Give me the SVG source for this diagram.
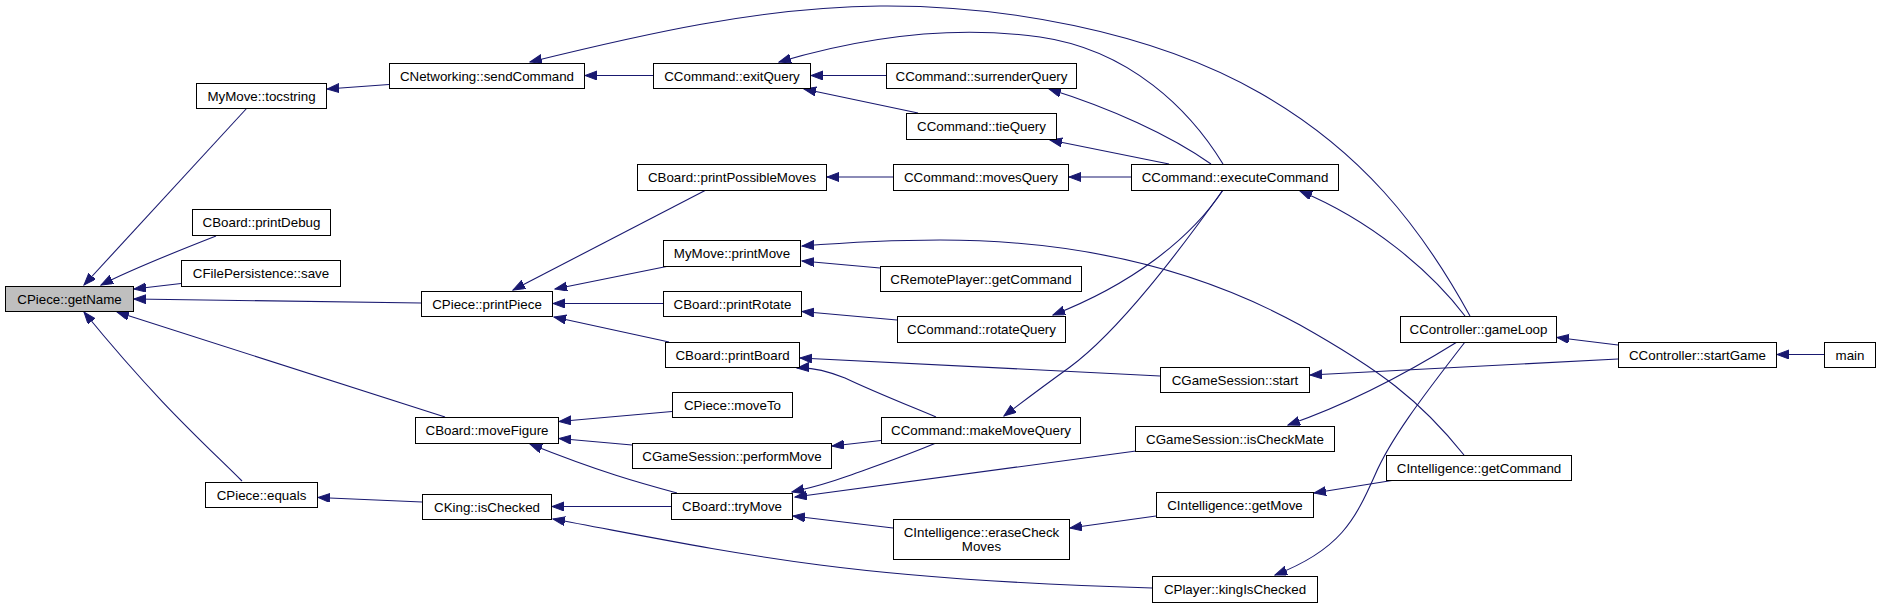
<svg xmlns="http://www.w3.org/2000/svg" width="1880" height="608" viewBox="0 0 1880 608">
<style>
.n rect{fill:#ffffff;stroke:#000000;stroke-width:1}
.n.cur rect{fill:#bfbfbf}
.n text{font-family:"Liberation Sans",Arial,sans-serif;font-size:13.33px;text-anchor:middle;fill:#000000}
.e path{fill:none;stroke:#191970;stroke-width:1.1;marker-end:url(#ah)}
</style>
<defs>
<marker id="ah" markerUnits="userSpaceOnUse" markerWidth="13" markerHeight="10" refX="12" refY="4.5" orient="auto">
<path d="M0,0 L12,4.5 L0,9 z" fill="#191970" stroke="#191970" stroke-width="1"/>
</marker>
</defs>
<rect width="1880" height="608" fill="#ffffff"/>
<g id="connectors" class="e">
<path d="M247,108 L84,285"/>
<path d="M216,236 C170,254 130,270 101,285"/>
<path d="M181,283.5 L134,289"/>
<path d="M421,303 L134,299"/>
<path d="M445,417 L117,312"/>
<path d="M242,481 C205,444 160,405 84,312"/>
<path d="M389,84.5 L327,89"/>
<path d="M1470,316 C1420,225 1360,150 1260,93 C1150,30 1000,5 880,6 C760,7 640,35 530,62"/>
<path d="M653,75.5 L585,75.5"/>
<path d="M886,75.5 L811,75.5"/>
<path d="M918,113 L804,89"/>
<path d="M1223,164 C1190,110 1130,50 1040,37 C960,26 870,35 779,62"/>
<path d="M1211,164 C1170,135 1110,108 1049,89"/>
<path d="M1169,164 L1050,140"/>
<path d="M893,177 L827,177"/>
<path d="M1131,177 L1069,177"/>
<path d="M1465,316 C1430,270 1370,220 1300,191"/>
<path d="M706,190 L513,290"/>
<path d="M669,266 L555,289"/>
<path d="M663,303.5 L553,303.5"/>
<path d="M669,342 L554,317"/>
<path d="M1464,455 C1420,400 1380,370 1300,325 C1200,270 1080,240 940,240 C880,240 840,243 802,246"/>
<path d="M880,268 L802,261"/>
<path d="M897,320 L802,311.5"/>
<path d="M1223,190 C1190,240 1130,285 1053,315"/>
<path d="M1223,190 C1180,250 1120,330 1070,367 C1045,385 1025,400 1004,416"/>
<path d="M1160,376 L800,358"/>
<path d="M936,417 C900,402 870,390 845,378 C825,370 810,367 797,368"/>
<path d="M1618,359 L1310,375"/>
<path d="M1618,345 L1557,337.5"/>
<path d="M1824,354.5 L1777,354.5"/>
<path d="M1457,342 C1420,365 1360,400 1288,425"/>
<path d="M1465,342 C1420,400 1390,440 1375,475 C1355,520 1340,550 1275,575"/>
<path d="M1395,480 L1314,493"/>
<path d="M672,411.5 L559,421.5"/>
<path d="M632,445 L559,438.5"/>
<path d="M677,493 C640,483 600,472 530,444"/>
<path d="M881,440.5 L832,446"/>
<path d="M936,443 C900,458 870,468 845,477 C820,486 805,489 792,492"/>
<path d="M1136,451 L795,497"/>
<path d="M893,528 L793,516"/>
<path d="M671,506.5 L552,506.5"/>
<path d="M422,502 L318,497.5"/>
<path d="M1152,588 C1050,585 920,578 820,565 C720,552 640,535 553,519"/>
<path d="M1156,516 L1070,528"/>
</g>
<g id="n_getName" class="n cur"><rect x="5.5" y="286.5" width="128" height="25"/><text x="69.5" y="303.5">CPiece::getName</text></g>
<g id="n_tocstring" class="n"><rect x="196.5" y="83.5" width="130" height="25"/><text x="261.5" y="100.5">MyMove::tocstring</text></g>
<g id="n_printDebug" class="n"><rect x="192.5" y="209.5" width="138" height="26"/><text x="261.5" y="227">CBoard::printDebug</text></g>
<g id="n_save" class="n"><rect x="181.5" y="260.5" width="159" height="26"/><text x="261" y="278">CFilePersistence::save</text></g>
<g id="n_equals" class="n"><rect x="205.5" y="482.5" width="112" height="25"/><text x="261.5" y="499.5">CPiece::equals</text></g>
<g id="n_sendCommand" class="n"><rect x="389.5" y="63.5" width="195" height="25"/><text x="487" y="80.5">CNetworking::sendCommand</text></g>
<g id="n_printPiece" class="n"><rect x="421.5" y="291.5" width="131" height="25"/><text x="487" y="308.5">CPiece::printPiece</text></g>
<g id="n_moveFigure" class="n"><rect x="415.5" y="417.5" width="143" height="26"/><text x="487" y="435">CBoard::moveFigure</text></g>
<g id="n_isChecked" class="n"><rect x="422.5" y="494.5" width="129" height="25"/><text x="487" y="511.5">CKing::isChecked</text></g>
<g id="n_exitQuery" class="n"><rect x="653.5" y="63.5" width="157" height="25"/><text x="732" y="80.5">CCommand::exitQuery</text></g>
<g id="n_printPossibleMoves" class="n"><rect x="637.5" y="164.5" width="189" height="26"/><text x="732" y="182">CBoard::printPossibleMoves</text></g>
<g id="n_printMove" class="n"><rect x="663.5" y="240.5" width="137" height="26"/><text x="732" y="258">MyMove::printMove</text></g>
<g id="n_printRotate" class="n"><rect x="663.5" y="291.5" width="138" height="25"/><text x="732.5" y="308.5">CBoard::printRotate</text></g>
<g id="n_printBoard" class="n"><rect x="665.5" y="342.5" width="134" height="25"/><text x="732.5" y="359.5">CBoard::printBoard</text></g>
<g id="n_moveTo" class="n"><rect x="672.5" y="392.5" width="120" height="25"/><text x="732.5" y="409.5">CPiece::moveTo</text></g>
<g id="n_performMove" class="n"><rect x="632.5" y="443.5" width="199" height="25"/><text x="732" y="460.5">CGameSession::performMove</text></g>
<g id="n_tryMove" class="n"><rect x="671.5" y="493.5" width="121" height="26"/><text x="732" y="511">CBoard::tryMove</text></g>
<g id="n_surrenderQuery" class="n"><rect x="886.5" y="63.5" width="190" height="25"/><text x="981.5" y="80.5">CCommand::surrenderQuery</text></g>
<g id="n_tieQuery" class="n"><rect x="906.5" y="113.5" width="150" height="26"/><text x="981.5" y="131">CCommand::tieQuery</text></g>
<g id="n_movesQuery" class="n"><rect x="893.5" y="164.5" width="175" height="26"/><text x="981" y="182">CCommand::movesQuery</text></g>
<g id="n_remoteGetCommand" class="n"><rect x="880.5" y="266.5" width="201" height="25"/><text x="981" y="283.5">CRemotePlayer::getCommand</text></g>
<g id="n_rotateQuery" class="n"><rect x="897.5" y="316.5" width="168" height="26"/><text x="981.5" y="334">CCommand::rotateQuery</text></g>
<g id="n_makeMoveQuery" class="n"><rect x="881.5" y="417.5" width="199" height="26"/><text x="981" y="435">CCommand::makeMoveQuery</text></g>
<g id="n_eraseCheckMoves" class="n"><rect x="893.5" y="519.5" width="176" height="40"/><text x="981.5" y="536.5">CIntelligence::eraseCheck</text><text x="981.5" y="550.5">Moves</text></g>
<g id="n_executeCommand" class="n"><rect x="1131.5" y="164.5" width="207" height="26"/><text x="1235" y="182">CCommand::executeCommand</text></g>
<g id="n_start" class="n"><rect x="1160.5" y="367.5" width="149" height="25"/><text x="1235" y="384.5">CGameSession::start</text></g>
<g id="n_isCheckMate" class="n"><rect x="1135.5" y="426.5" width="199" height="25"/><text x="1235" y="443.5">CGameSession::isCheckMate</text></g>
<g id="n_getMove" class="n"><rect x="1156.5" y="492.5" width="157" height="25"/><text x="1235" y="509.5">CIntelligence::getMove</text></g>
<g id="n_kingIsChecked" class="n"><rect x="1152.5" y="576.5" width="165" height="26"/><text x="1235" y="594">CPlayer::kingIsChecked</text></g>
<g id="n_gameLoop" class="n"><rect x="1400.5" y="316.5" width="156" height="26"/><text x="1478.5" y="334">CController::gameLoop</text></g>
<g id="n_intelGetCommand" class="n"><rect x="1386.5" y="455.5" width="185" height="25"/><text x="1479" y="472.5">CIntelligence::getCommand</text></g>
<g id="n_startGame" class="n"><rect x="1618.5" y="342.5" width="158" height="25"/><text x="1697.5" y="359.5">CController::startGame</text></g>
<g id="n_main" class="n"><rect x="1824.5" y="342.5" width="51" height="25"/><text x="1850" y="359.5">main</text></g>
</svg>
